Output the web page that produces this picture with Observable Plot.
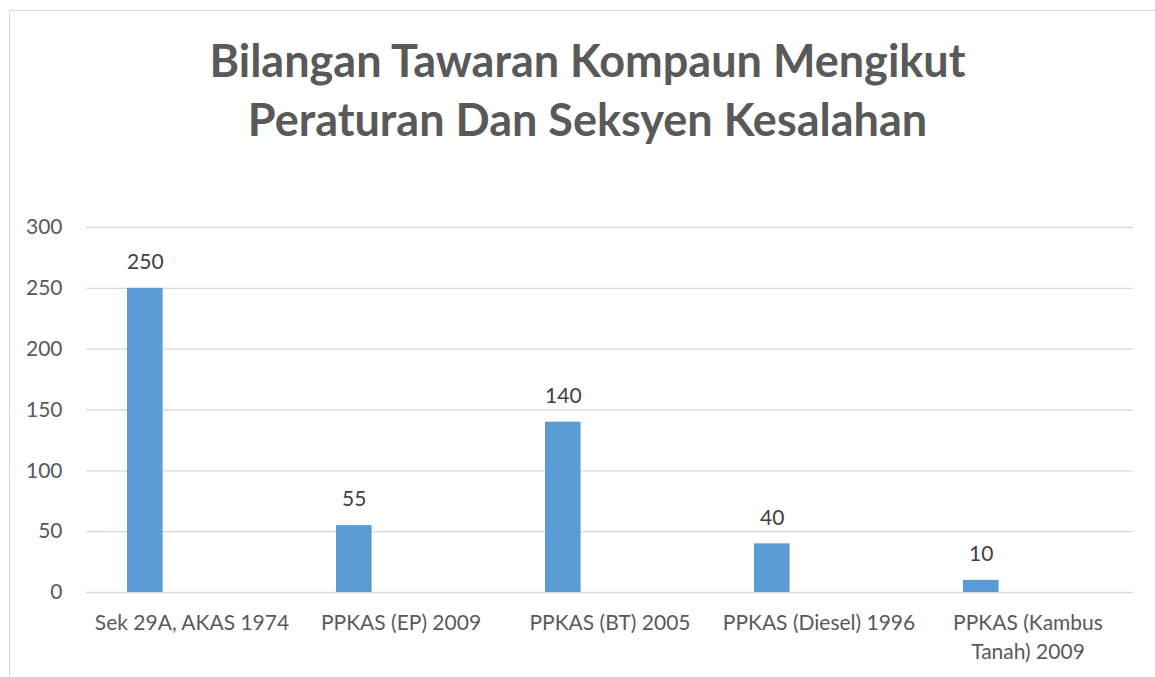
<!DOCTYPE html>
<html>
<head>
<meta charset="utf-8">
<script src="https://cdn.jsdelivr.net/npm/d3@7"></script>
<script src="https://cdn.jsdelivr.net/npm/@observablehq/plot@0.6"></script>
<style>
  html, body { margin: 0; padding: 0; background: #fff; width: 1155px; height: 677px; overflow: hidden; }
  #frame { position: absolute; left: 9px; top: 10px; width: 1200px; height: 720px; border: 1px solid #d9d9d9; }
  #title { position: absolute; left: 0; width: 1175px; top: 31px; text-align: center;
           font-family: Lato, "Open Sans", sans-serif; font-weight: bold; color: #595959;
           font-size: 45px; line-height: 59px; }
  #chart { position: absolute; left: 0; top: 0; }
</style>
</head>
<body>
<div id="frame"></div>
<div id="title">Bilangan Tawaran Kompaun Mengikut<br>Peraturan Dan Seksyen Kesalahan</div>
<div id="chart"></div>
<script>
const categories = ["Sek 29A, AKAS 1974", "PPKAS (EP) 2009", "PPKAS (BT) 2005", "PPKAS (Diesel) 1996", "PPKAS (Kambus Tanah) 2009"];
const tickLabels = ["Sek 29A, AKAS 1974", "PPKAS (EP) 2009", "PPKAS (BT) 2005", "PPKAS (Diesel) 1996", "PPKAS (Kambus\nTanah) 2009"];
const values = [250, 55, 140, 40, 10];
const yTicks = [0, 50, 100, 150, 200, 250, 300];

const data = categories.map((c, i) => ({category: c, value: values[i]}));
const labelOf = new Map(categories.map((c, i) => [c, tickLabels[i]]));

const W = 1155, H = 677;
const mL = 86, mR = 22, mT = 227, mB = 85;
const band = (W - mL - mR) / categories.length;
const barStart = 40, barW = 36;

const chart = Plot.plot({
  width: W, height: H,
  marginLeft: mL, marginRight: mR, marginTop: mT, marginBottom: mB,
  style: {fontFamily: "Lato, 'Open Sans', sans-serif", background: "transparent", color: "#595959"},
  x: {domain: categories, padding: 0, align: 0.5},
  y: {domain: [0, 300], ticks: yTicks},
  marks: [
    Plot.gridY(yTicks, {stroke: "#d9d9d9", strokeOpacity: 1, strokeWidth: 1.3}),
    Plot.axisY({ticks: yTicks, tickSize: 0, tickPadding: 24, fontSize: 21, fill: "#595959", label: null}),
    Plot.axisX({tickSize: 0, tickPadding: 17, fontSize: 21, fill: "#595959", label: null,
                tickFormat: d => labelOf.get(d), lineHeight: 1.38}),
    Plot.barY(data, {x: "category", y: "value", fill: "#5b9bd5",
                     insetLeft: barStart, insetRight: band - barStart - barW}),
    Plot.text(data, {x: "category", y: "value", text: d => String(d.value),
                     dx: barStart + barW / 2 - band / 2, dy: -26, fontSize: 21, fill: "#404040",
                     lineAnchor: "middle"})
  ]
});
document.getElementById("chart").appendChild(chart);
</script>
</body>
</html>
